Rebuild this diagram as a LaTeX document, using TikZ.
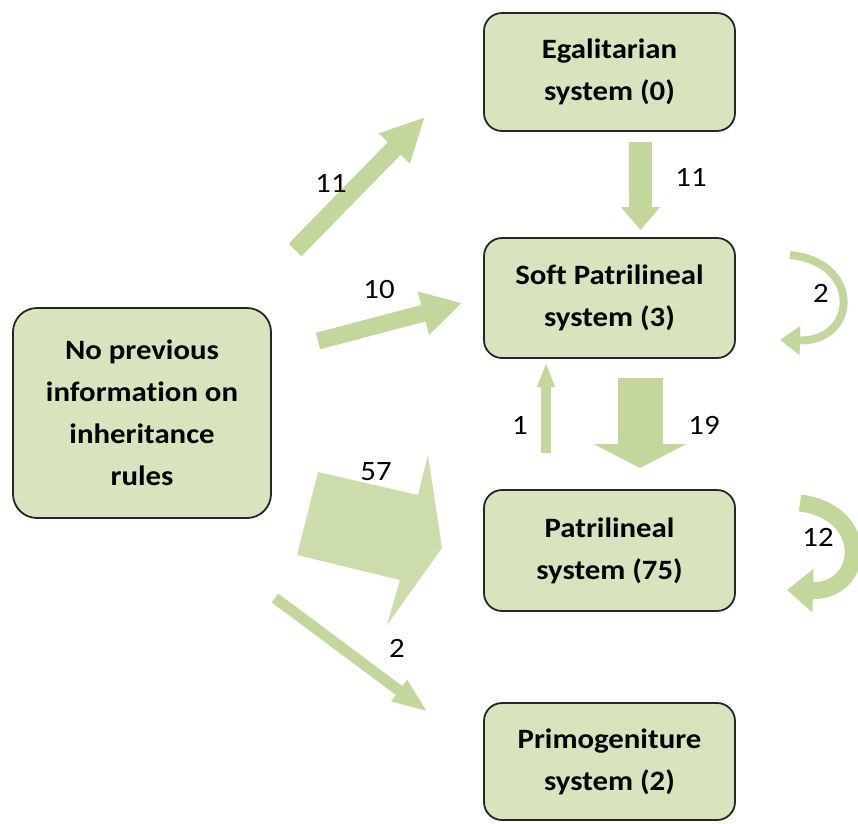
\documentclass[tikz,border=0pt]{standalone}
\usepackage{fontspec}
\setmainfont{Carlito}[Ligatures=NoCommon,FakeStretch=1.1]
\usetikzlibrary{arrows.meta}
\definecolor{boxgreen}{HTML}{D7E4BD}
\definecolor{flowgreen}{HTML}{C3D69B}

\begin{document}
\begin{tikzpicture}[x=1pt,y=-1pt,
	sysbox/.style={draw=black!85,line width=1.8pt,fill=boxgreen,rounded corners=18pt,
		minimum width=251pt,minimum height=118pt,align=center,inner sep=0pt,
		font=\fontsize{28}{42}\selectfont\bfseries},
	flow/.style={draw=flowgreen},
	num/.style={inner sep=0pt,font=\fontsize{28}{32}\selectfont}]
\useasboundingbox (0,0) rectangle (858,823);
\node[sysbox] (egal) at (609.5,72) {Egalitarian\\system (0)};
\node[sysbox,minimum height=120pt] (soft) at (609.5,298) {Soft Patrilineal\\system (3)};
\node[sysbox,minimum height=121pt] (patri) at (609.5,550.5) {Patrilineal\\system (75)};
\node[sysbox,minimum height=117pt] (primo) at (609.5,761.5) {Primogeniture\\system (2)};
\node[sysbox,minimum width=258pt,minimum height=210pt,rounded corners=24pt] (nop) at (142,413)
	{No previous\\information on\\inheritance\\rules};
% arrow ends
\coordinate (a1) at (295,250); \coordinate (b1) at (425,117);
\coordinate (a2) at (318,341); \coordinate (b2) at (462,303);
\coordinate (a3) at (640.5,142); \coordinate (b3) at (640.5,230);
\coordinate (a4) at (640,378); \coordinate (b4) at (640,468);
\coordinate (a5) at (546,453); \coordinate (b5) at (546,362);
\coordinate (a7) at (275,598); \coordinate (b7) at (428,712);
\draw[flow,line width=18pt,-{Triangle[length=44pt,width=40pt]}] (a1) -- (b1);
\draw[flow,line width=17pt,-{Triangle[length=40pt,width=42pt]}] (a2) -- (b2);
\draw[flow,line width=23pt,-{Triangle[length=23pt,width=38pt]}] (a3) -- (b3);
\draw[flow,line width=45pt,-{Triangle[length=24pt,width=92pt]}] (a4) -- (b4);
\draw[flow,line width=10pt,-{Triangle[length=25pt,width=16pt]}] (a5) -- (b5);
\draw[flow,line width=11pt,-{Triangle[length=36pt,width=24pt]}] (a7) -- (b7);
% big one
\fill[flowgreen!85] (318,472) -- (418,495) -- (428,455) -- (442,548) -- (387,625)
	-- (400,580) -- (297,555) -- cycle;
% loops
\draw[flow,line width=8pt,-{Triangle[length=20pt,width=28pt]}]
	(790,255) .. controls (862,262) and (858,342) .. (780,340);
\draw[flow,line width=17pt,-{Triangle[length=26pt,width=42pt]}]
	(800,503) .. controls (872,512) and (866,592) .. (787,590);
\node[num] at (331,183) {11};
\node[num] at (691,177) {11};
\node[num] at (379,290) {10};
\node[num] at (821,293) {2};
\node[num] at (520,425) {1};
\node[num] at (704,425) {19};
\node[num] at (376,472) {57};
\node[num] at (818,537) {12};
\node[num] at (397,648) {2};
\end{tikzpicture}
\end{document}
